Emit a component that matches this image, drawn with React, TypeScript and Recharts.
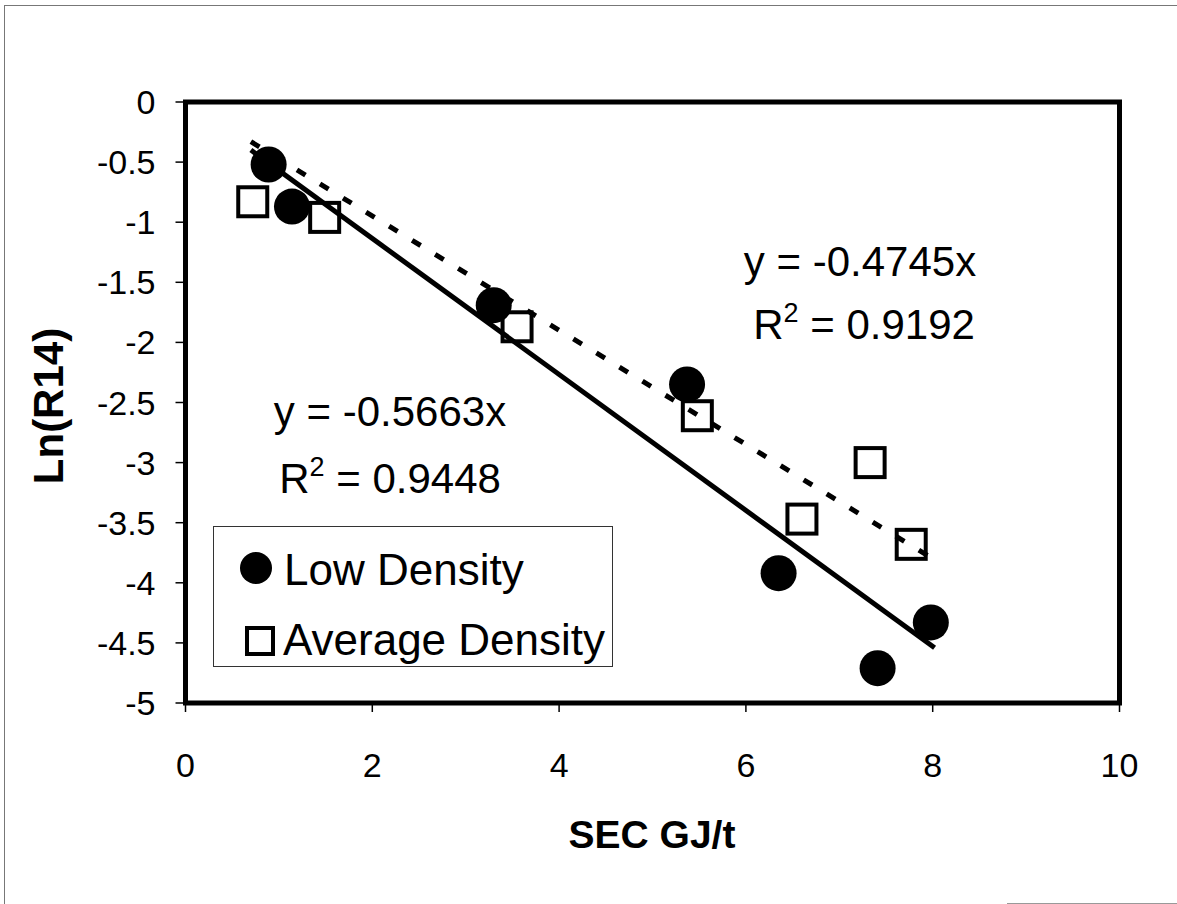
import React from 'react'
import { ScatterChart, Scatter, XAxis, YAxis, ReferenceArea } from 'recharts'

// Low density: filled circles
const lowX = [0.89, 1.14, 3.3, 5.37, 6.35, 7.41, 7.98]
const lowY = [-0.52, -0.87, -1.69, -2.35, -3.92, -4.71, -4.33]

// Average density: open squares
const avgX = [0.72, 1.49, 3.55, 5.48, 6.6, 7.33, 7.77]
const avgY = [-0.83, -0.96, -1.87, -2.61, -3.47, -3.0, -3.68]

// trendline ends
const lowFitX = [0.7, 8.02]
const lowFitY = [-0.4, -4.54]
const avgFitX = [0.7, 7.98]
const avgFitY = [-0.33, -3.79]

const xTicks = [0, 2, 4, 6, 8, 10]
const yTicks = [0, -0.5, -1, -1.5, -2, -2.5, -3, -3.5, -4, -4.5, -5]

const zip = (xs: number[], ys: number[]) => xs.map((x, i) => ({ x, y: ys[i] }))

const lowData = zip(lowX, lowY)
const avgData = zip(avgX, avgY)
const lowFit = zip(lowFitX, lowFitY)
const avgFit = zip(avgFitX, avgFitY)

const font = "Arial, 'Liberation Sans', sans-serif"

const Dot = (p: any) => <circle cx={p.cx} cy={p.cy} r={18} fill="#000" />
const Box = (p: any) => (
  <rect x={p.cx - 14.5} y={p.cy - 14.5} width={29} height={29} fill="none" stroke="#000" strokeWidth={4} />
)
const NoShape = () => null

const XTick = (p: any) => (
  <text x={p.x} y={p.y + 25} textAnchor="middle" fontSize={34} fontFamily={font} fill="#000">
    {p.payload.value}
  </text>
)
const YTick = (p: any) => (
  <text x={p.x - 2} y={p.y + 12} textAnchor="end" fontSize={34} fontFamily={font} fill="#000">
    {p.payload.value}
  </text>
)

export default function App() {
  return (
    <div style={{ position: 'absolute', left: 0, top: 0, width: 1177, height: 904, background: '#fff', fontFamily: font }}>
      <ScatterChart width={1177} height={904} margin={{ top: 102, right: 57.5, bottom: 141, left: 85.5 }}>
        <XAxis
          type="number"
          dataKey="x"
          domain={[0, 10]}
          ticks={xTicks}
          height={60}
          axisLine={false}
          tickLine={{ stroke: '#000', strokeWidth: 1.5 }}
          tickSize={9}
          tickMargin={40}
          tick={XTick}
        />
        <YAxis
          type="number"
          dataKey="y"
          domain={[-5, 0]}
          ticks={yTicks}
          width={100}
          axisLine={false}
          tickLine={{ stroke: '#000', strokeWidth: 1.5 }}
          tickSize={10}
          tickMargin={18}
          tick={YTick}
        />
        <ReferenceArea x1={0} x2={10} y1={-5} y2={0} fill="none" stroke="#000" strokeWidth={5} />
        <Scatter data={lowData} shape={Dot} isAnimationActive={false} />
        <Scatter data={avgData} shape={Box} isAnimationActive={false} />
        <Scatter
          data={lowFit}
          shape={NoShape}
          line={{ stroke: '#000', strokeWidth: 5 }}
          isAnimationActive={false}
        />
        <Scatter
          data={avgFit}
          shape={NoShape}
          line={{ stroke: '#000', strokeWidth: 5, strokeDasharray: '10 17' }}
          isAnimationActive={false}
        />
      </ScatterChart>

      <svg width={1177} height={904} style={{ position: 'absolute', left: 0, top: 0, pointerEvents: 'none' }}>
        {/* page frame */}
        <line x1={4.5} y1={5} x2={4.5} y2={904} stroke="#777" strokeWidth={1} />
        <line x1={4} y1={5.5} x2={1177} y2={5.5} stroke="#777" strokeWidth={1} />
        <line x1={1007} y1={903.5} x2={1177} y2={903.5} stroke="#999" strokeWidth={1} />

        {/* axis titles */}
        <text x={652} y={848} textAnchor="middle" fontSize={39} fontWeight="bold" fontFamily={font} fill="#000">
          SEC GJ/t
        </text>
        <text
          x={63}
          y={406}
          textAnchor="middle"
          fontSize={42}
          fontWeight="bold"
          fontFamily={font}
          fill="#000"
          transform="rotate(-90 63 406)"
        >
          Ln(R14)
        </text>

        {/* trendline equations */}
        <g fontSize={42} fontFamily={font} fill="#000" textAnchor="middle">
          <text x={860} y={276}>y = -0.4745x</text>
          <text x={864} y={339}>
            R<tspan fontSize={27} dy={-17}>2</tspan>
            <tspan dy={17}> = 0.9192</tspan>
          </text>
          <text x={390} y={426}>y = -0.5663x</text>
          <text x={390} y={493}>
            R<tspan fontSize={27} dy={-17}>2</tspan>
            <tspan dy={17}> = 0.9448</tspan>
          </text>
        </g>
      </svg>

      {/* legend */}
      <div
        style={{
          position: 'absolute',
          left: 213,
          top: 526,
          width: 400,
          height: 141,
          border: '1.5px solid #333',
          boxSizing: 'border-box',
          background: '#fff',
        }}
      >
        <svg width={400} height={141} style={{ position: 'absolute', left: -1.5, top: -1.5 }}>
          <circle cx={43} cy={42} r={16} fill="#000" />
          <text x={71} y={59} fontSize={44} fontFamily={font} fill="#000">Low Density</text>
          <rect x={34} y={102} width={26} height={26} fill="none" stroke="#000" strokeWidth={4} />
          <text x={70} y={129} fontSize={44} fontFamily={font} fill="#000">Average Density</text>
        </svg>
      </div>
    </div>
  )
}
